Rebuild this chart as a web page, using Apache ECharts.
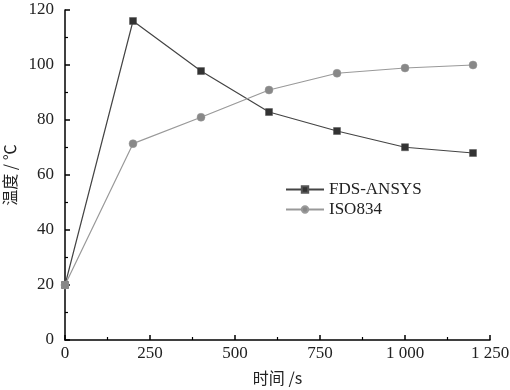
<!DOCTYPE html>
<html><head><meta charset="utf-8">
<script src="https://cdn.jsdelivr.net/npm/echarts@6/dist/echarts.min.js"></script>
<style>html,body{margin:0;padding:0;background:#fff}#c{width:510px;height:390px}</style>
</head><body><div id="c"></div>
<script>
const times = [0, 200, 400, 600, 800, 1000, 1200];
const fdsAnsys = [20, 116, 97.8, 82.9, 76, 70.1, 68];
const iso834 = [20, 71.4, 81, 90.9, 97, 98.9, 100];
const seriesNames = ['FDS-ANSYS', 'ISO834'];
const xName = '时间 /s';
const yName = '温度 / ℃';

const font = "'Liberation Serif', 'Times New Roman', serif";
const chart = echarts.init(document.getElementById('c'));
const fmtX = v => v >= 1000 ? String(v).replace(/(\d)(\d{3})$/, '$1 $2') : String(v);
const axisCommon = {
  axisLine: {show: true, onZero: false, lineStyle: {color: '#000', width: 1.5}},
  axisTick: {show: true, inside: true, length: 5, lineStyle: {color: '#000', width: 1.5}},
  minorTick: {show: true, splitNumber: 2, length: 3, lineStyle: {color: '#000', width: 1.2}},
  splitLine: {show: false},
  axisLabel: {color: '#222', fontFamily: font, fontSize: 17},
  nameTextStyle: {color: '#222', fontFamily: "'Noto Sans CJK SC', sans-serif", fontSize: 16}
};
chart.setOption({
  animation: false,
  backgroundColor: '#fff',
  grid: {left: 65, right: 20, top: 10, bottom: 50, containLabel: false, outerBoundsMode: 'none'},
  legend: {
    left: 280, top: 176, orient: 'vertical', itemWidth: 38, itemHeight: 8, itemGap: 3,
    textStyle: {color: '#222', fontFamily: font, fontSize: 17},
    data: seriesNames
  },
  xAxis: Object.assign({}, axisCommon, {
    type: 'value', min: 0, max: 1250, interval: 250,
    name: xName, nameLocation: 'middle', nameGap: 30,
    axisLabel: Object.assign({}, axisCommon.axisLabel, {formatter: fmtX, margin: 5})
  }),
  yAxis: Object.assign({}, axisCommon, {
    type: 'value', min: 0, max: 120, interval: 20,
    name: yName, nameLocation: 'middle', nameGap: 42, nameRotate: 90,
    axisLabel: Object.assign({}, axisCommon.axisLabel, {margin: 11})
  }),
  series: [
    {name: seriesNames[0], type: 'line', data: times.map((t, i) => [t, fdsAnsys[i]]),
     symbol: 'rect', symbolSize: 7,
     lineStyle: {color: '#444', width: 1.2}, itemStyle: {color: '#333', borderColor: '#555', borderWidth: 0.5}},
    {name: seriesNames[1], type: 'line', data: times.map((t, i) => [t, iso834[i]]),
     symbol: 'circle', symbolSize: 8,
     lineStyle: {color: '#999', width: 1.2}, itemStyle: {color: '#888', borderColor: '#999', borderWidth: 0.5}}
  ]
});
</script></body></html>
